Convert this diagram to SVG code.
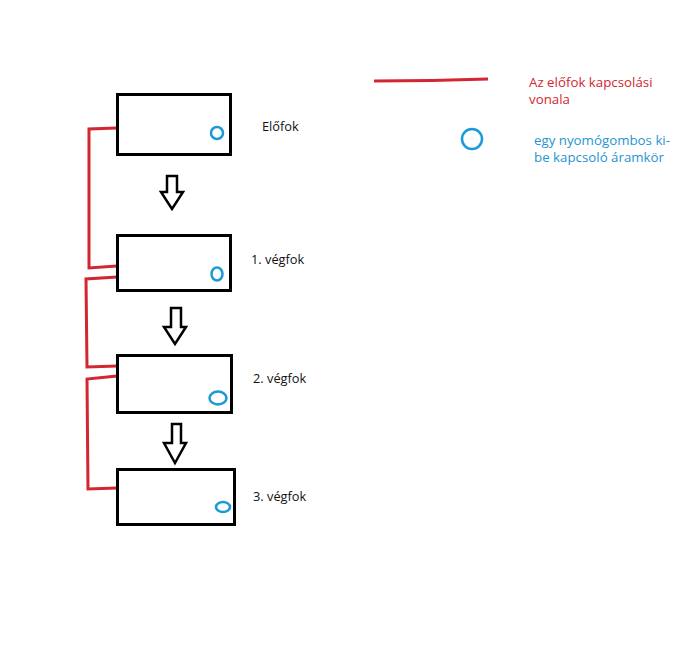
<svg xmlns="http://www.w3.org/2000/svg" width="697" height="648" viewBox="0 0 697 648">
<style>
.box{fill:#fff;stroke:#000;stroke-width:3}
.btn{fill:none;stroke:#1a9bd7;stroke-width:2.5}
.arr{fill:#fff;stroke:#000;stroke-width:2.5;stroke-linejoin:miter}
.red{fill:none;stroke:#d22630;stroke-width:3;stroke-linejoin:miter}
.lbl{font-family:"Open Sans","Noto Sans",sans-serif;font-size:12.8px;fill:#111}
.lr{font-family:"Open Sans","Noto Sans",sans-serif;font-size:13.3px;fill:#d22630}
.lb{font-family:"Open Sans","Noto Sans",sans-serif;font-size:13.3px;fill:#1f95cf}
</style>
<rect width="697" height="648" fill="#fff"/>
<g id="connectors">
<polyline class="red" points="117,128 89,129 89,268 117,266"/>
<polyline class="red" points="117,277 86,279 87,367 117,366"/>
<polyline class="red" points="117,376 87,379 88,489 117,488"/>
<path id="arrow1" class="arr" d="M167,176 H177 V192 H183 L172,209 L161,192 H167 Z"/>
<path id="arrow2" class="arr" d="M171,308 H181 V327 H186 L175,344 L164,327 H171 Z"/>
<path id="arrow3" class="arr" d="M172,424 H181 V443 H186 L175,463 L164,443 H172 Z"/>
</g>
<g id="elofok">
<rect class="box" x="117.5" y="94.5" width="113" height="60"/>
<circle class="btn" cx="217" cy="133" r="6"/>
<text class="lbl" x="262" y="131">Előfok</text>
</g>
<g id="vegfok1">
<rect class="box" x="117.5" y="235.5" width="113" height="55"/>
<ellipse class="btn" cx="217" cy="274" rx="5.5" ry="6.5"/>
<text class="lbl" x="251" y="264">1. végfok</text>
</g>
<g id="vegfok2">
<rect class="box" x="117.5" y="355.5" width="114" height="57"/>
<ellipse class="btn" cx="218" cy="398" rx="8.5" ry="6.5"/>
<text class="lbl" x="253" y="383">2. végfok</text>
</g>
<g id="vegfok3">
<rect class="box" x="117.5" y="469.5" width="117" height="55"/>
<ellipse class="btn" cx="223" cy="507" rx="7" ry="5"/>
<text class="lbl" x="253" y="501">3. végfok</text>
</g>
<g id="legend">
<polyline class="red" points="374,81 432,80.5 488,79"/>
<text class="lr" x="529" y="87">Az előfok kapcsolási</text>
<text class="lr" x="529" y="104">vonala</text>
<circle class="btn" cx="472" cy="139" r="10" stroke-width="3"/>
<text class="lb" x="534" y="145">egy nyomógombos ki-</text>
<text class="lb" x="534" y="162">be kapcsoló áramkör</text>
</g>
</svg>
